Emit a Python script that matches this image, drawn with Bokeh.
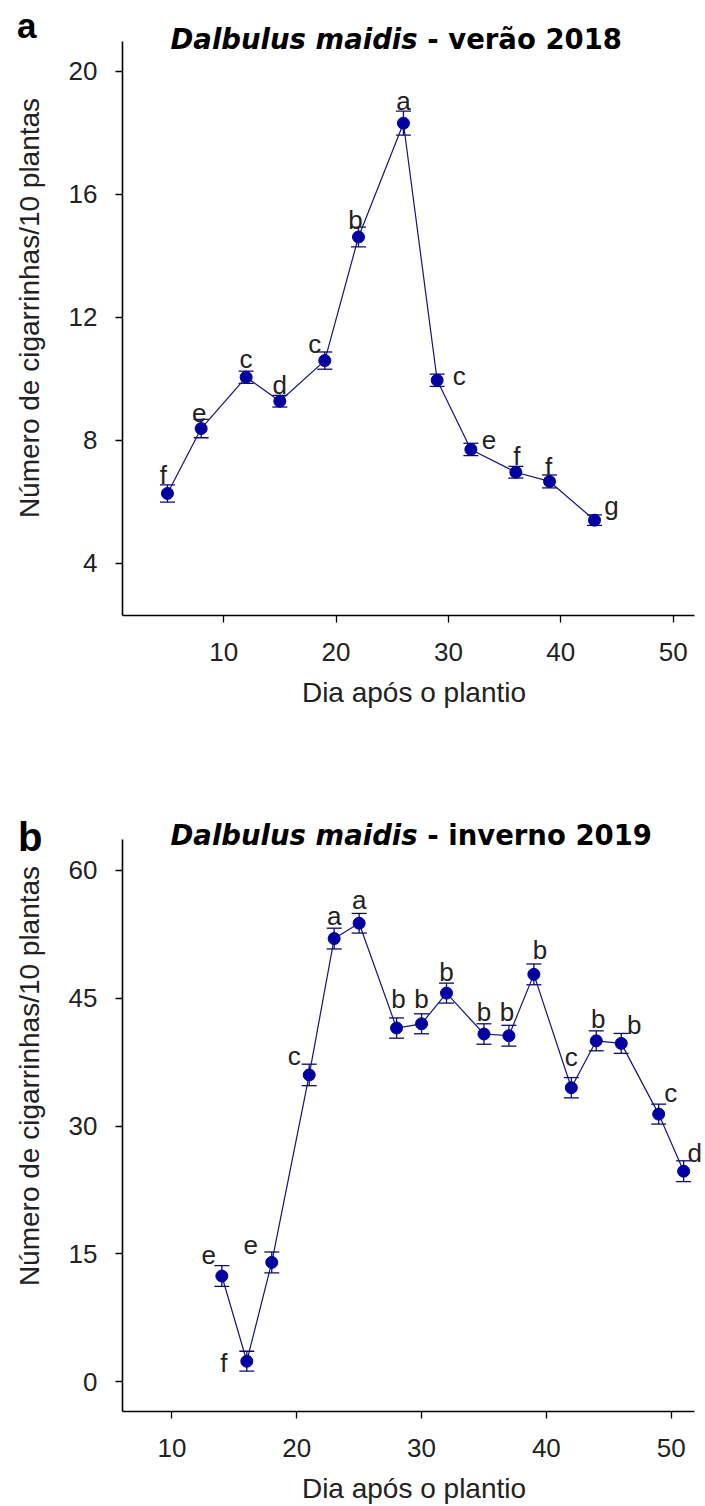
from bokeh.plotting import figure
from bokeh.models import (ColumnDataSource, Range1d, FixedTicker, Whisker, TeeHead,
                          Label, LinearAxis)
from bokeh.layouts import column
from bokeh.embed import file_html
from bokeh.resources import INLINE
from bokeh.core.properties import value

# ---------------- data ----------------
# panel a: Dalbulus maidis - verão 2018
days_a = [5, 8, 12, 15, 19, 22, 26, 29, 32, 36, 39, 43]
mean_a = [6.27, 8.38, 10.05, 9.27, 10.59, 14.61, 18.31, 9.95, 7.70, 6.96, 6.66, 5.40]
se_a = [0.28, 0.30, 0.20, 0.19, 0.28, 0.32, 0.39, 0.20, 0.20, 0.19, 0.21, 0.17]
letters_a = ["f", "e", "c", "d", "c", "b", "a", "c", "e", "f", "f", "g"]

# panel b: Dalbulus maidis - inverno 2019
days_b = [14, 16, 18, 21, 23, 25, 28, 30, 32, 35, 37, 39, 42, 44, 46, 49, 51]
mean_b = [12.4, 2.4, 14.0, 36.0, 52.0, 53.8, 41.5, 42.0, 45.6, 40.8, 40.6, 47.8,
          34.5, 40.0, 39.7, 31.4, 24.7]
se_b = [1.22, 1.17, 1.22, 1.26, 1.22, 1.15, 1.19, 1.17, 1.17, 1.20, 1.22, 1.22,
        1.19, 1.17, 1.17, 1.17, 1.22]
letters_b = ["e", "f", "e", "c", "a", "a", "b", "b", "b", "b", "b", "b",
             "c", "b", "b", "c", "d"]

x_ticks = [10, 20, 30, 40, 50]
y_ticks_a = [4, 8, 12, 16, 20]
y_ticks_b = [0, 15, 30, 45, 60]

title_sp = "Dalbulus maidis"
title_a_rest = "- verão 2018"
title_b_rest = "- inverno 2019"
x_label = "Dia após o plantio"
y_label = "Número de cigarrinhas/10 plantas"

# letter placement (screen px offsets from each point)
lab_dx_a = [-4, -2, 0, 0, -10, -3, 0, 22, 18, 1, -1, 17]
lab_up_a = [18, 16, 18, 16, 17, 17, 22, 4, 9, 16, 14, 14]
lab_dx_b = [-13, -23, -21, -15, 0, 0, 2, 0, 0, 0, -2, 6, 0, 2, 13, 12, 11]
lab_up_b = [21, -2, 17, 19, 23, 23, 29, 25, 21, 22, 24, 24, 31, 22, 18, 21, 18]

FONT = "Liberation Sans"
TFONT = "DejaVu Sans"
TSIZE = 27.5
LINE_C = "#14147a"
MARK_C = "#0000a0"
BAR_C = "#0c0c6a"
TXT_C = "#222222"


def make_panel(days, mean, se, letters, dx, up, xr, xend, yr, yend, yticks,
               height, bottom, tag, tag_size, tag_pos, tag_shift, rest):
    # frame reaches the top and right edges so the title and edge letters are not clipped;
    # axis lines are limited with bounds
    p = figure(width=705, height=height, x_range=Range1d(xr[0], xend),
               y_range=Range1d(yr[0], yend),
               output_backend="svg", toolbar_location=None,
               min_border_left=122, min_border_right=0,
               min_border_top=0, min_border_bottom=bottom)
    p.title.visible = False
    p.outline_line_color = None
    p.grid.visible = False
    p.background_fill_color = "white"
    p.border_fill_color = "white"

    src = ColumnDataSource(dict(
        x=days, y=mean,
        upper=[m + s for m, s in zip(mean, se)],
        lower=[m - s for m, s in zip(mean, se)],
        txt=letters, dx=dx, dy=[-u for u in up]))

    w = Whisker(base="x", upper="upper", lower="lower", source=src,
                line_color=BAR_C, line_width=1.3, level="underlay",
                upper_head=TeeHead(size=15, line_color=BAR_C, line_width=1.3),
                lower_head=TeeHead(size=15, line_color=BAR_C, line_width=1.3))
    p.add_layout(w)
    p.line("x", "y", source=src, line_color=LINE_C, line_width=1.2)
    p.scatter("x", "y", source=src, size=12, fill_color=MARK_C, line_color=MARK_C)
    p.text("x", "y", text="txt", source=src, x_offset="dx", y_offset="dy",
           text_font=value(FONT), text_font_size="26px", text_color=TXT_C,
           text_align="center", text_baseline="alphabetic")

    for ax in (p.xaxis[0], p.yaxis[0]):
        ax.axis_line_color = "black"
        ax.axis_line_width = 1.6
        ax.major_tick_line_color = "black"
        ax.major_tick_line_width = 1.3
        ax.major_tick_in = 0
        ax.major_tick_out = 7
        ax.minor_tick_line_color = None
        ax.major_label_text_font = FONT
        ax.major_label_text_font_size = "26px"
        ax.major_label_text_color = TXT_C
        ax.axis_label_text_font = FONT
        ax.axis_label_text_font_size = "28px"
        ax.axis_label_text_font_style = "normal"
        ax.axis_label_text_color = TXT_C

    p.xaxis.ticker = FixedTicker(ticks=x_ticks)
    p.yaxis.ticker = FixedTicker(ticks=yticks)
    p.xaxis.bounds = xr
    p.yaxis.bounds = yr
    p.xaxis.axis_label = x_label
    p.yaxis.axis_label = y_label
    p.xaxis.major_label_standoff = 20
    p.xaxis.axis_label_standoff = 13
    p.yaxis.major_label_standoff = 18
    p.yaxis.axis_label_standoff = 21

    # panel tag ("a" / "b") as the single label of an outer, line-less axis
    tag_axis = LinearAxis(ticker=FixedTicker(ticks=[tag_pos]),
                          major_label_overrides={tag_pos: tag},
                          axis_line_color=None, major_tick_line_color=None,
                          minor_tick_line_color=None, major_tick_in=0, major_tick_out=0,
                          major_label_standoff=tag_shift,
                          major_label_text_font=FONT,
                          major_label_text_font_size=f"{tag_size}px",
                          major_label_text_font_style="bold",
                          major_label_text_color="black")
    p.add_layout(tag_axis, "left")

    # title in two styles
    base_y = 577
    t1 = Label(x=48, y=base_y, x_units="screen", y_units="screen", text=title_sp,
               text_font=TFONT, text_font_size=f"{TSIZE}px",
               text_font_style="bold italic", text_color="black",
               text_align="left", text_baseline="alphabetic")
    t2 = Label(x=48 + 8.988 * TSIZE + 0.348 * TSIZE, y=base_y, x_units="screen",
               y_units="screen", text=rest,
               text_font=TFONT, text_font_size=f"{TSIZE}px",
               text_font_style="bold", text_color="black",
               text_align="left", text_baseline="alphabetic")
    p.add_layout(t1)
    p.add_layout(t2)
    return p


# top panel: 31.04 px per y unit, 11.24 px per x unit
pa = make_panel(days_a, mean_a, se_a, letters_a, lab_dx_a, lab_up_a,
                (1.0, 51.9), 51.9 + 11 / 11.24, (2.30, 20.98), 20.98 + 41 / 31.04,
                y_ticks_a, 740, 125, "a", 35, 21.48, -26, title_a_rest)
# bottom panel: 8.572 px per y unit, 12.47 px per x unit
pb = make_panel(days_b, mean_b, se_b, letters_b, lab_dx_b, lab_up_b,
                (6.04, 51.87), 51.87 + 11 / 12.47, (-3.5, 63.58), 63.58 + 100 / 8.572,
                y_ticks_b, 766, 91, "b", 40, 63.95, -32, title_b_rest)

layout = column(pa, pb, spacing=0)
open("out.html", "w").write(file_html(layout, INLINE))
